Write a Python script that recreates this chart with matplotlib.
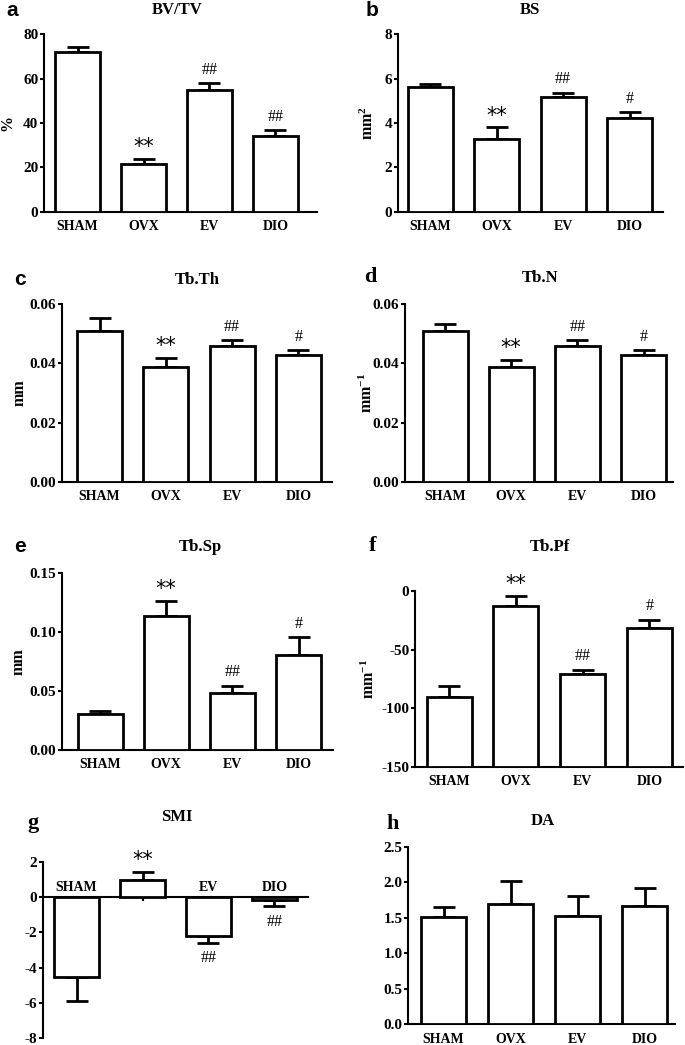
import matplotlib
matplotlib.use("Agg")
import matplotlib.pyplot as plt
import numpy as np

plt.rcParams['font.family'] = ['Liberation Serif', 'DejaVu Serif']
plt.rcParams['font.weight'] = 'bold'
plt.rcParams['axes.unicode_minus'] = False
plt.rcParams['mathtext.fontset'] = 'custom'
plt.rcParams['mathtext.rm'] = 'Liberation Serif:bold'
plt.rcParams['mathtext.it'] = 'Liberation Serif:bold'
plt.rcParams['mathtext.bf'] = 'Liberation Serif:bold'

groups = ['SHAM', 'OVX', 'EV', 'DIO']

bvtv_mean = [71.9, 21.4, 54.9, 34.3]
bvtv_err = [2.5, 2.4, 3.0, 2.4]
bvtv_sig = ['', '**', '##', '##']

bs_mean = [5.61, 3.26, 5.19, 4.21]
bs_err = [0.13, 0.55, 0.18, 0.27]
bs_sig = ['', '**', '##', '#']

tbth_mean = [0.0510, 0.0387, 0.0459, 0.0427]
tbth_err = [0.0042, 0.0032, 0.0019, 0.0017]
tbth_sig = ['', '**', '##', '#']

tbn_mean = [0.0510, 0.0387, 0.0459, 0.0427]
tbn_err = [0.0022, 0.0025, 0.0019, 0.0017]
tbn_sig = ['', '**', '##', '#']

tbsp_mean = [0.0306, 0.1138, 0.0487, 0.0809]
tbsp_err = [0.0025, 0.0130, 0.0059, 0.0148]
tbsp_sig = ['', '**', '##', '#']

tbpf_mean = [-90.2, -12.5, -71.1, -31.9]
tbpf_err = [9.4, 8.2, 3.9, 7.1]
tbpf_sig = ['', '**', '##', '#']

smi_mean = [-4.53, 0.94, -2.21, -0.15]
smi_err = [1.36, 0.48, 0.37, 0.36]
smi_sig = ['', '**', '##', '##']

da_mean = [1.51, 1.70, 1.53, 1.66]
da_err = [0.14, 0.32, 0.27, 0.26]
da_sig = ['', '', '', '']

W, H = 685, 1045
fig = plt.figure(figsize=(W / 100, H / 100), dpi=100)

panels = [
    dict(letter='a', title='BV/TV', ylabel='%', mean=bvtv_mean, err=bvtv_err, sig=bvtv_sig,
         yticks=[0, 20, 40, 60, 80], ytl=['0', '20', '40', '60', '80'], ylim=(0, 80), base=0,
         axl=44, axr=317, c0=77.5, s=66.0, yt=34.3, yb=211.7,
         lpos=(12, 11), lsans=True, tpos=(177, 10), ylx=15),
    dict(letter='b', title='BS', ylabel=r'mm$^{2}$', mean=bs_mean, err=bs_err, sig=bs_sig,
         yticks=[0, 2, 4, 6, 8], ytl=['0', '2', '4', '6', '8'], ylim=(0, 8), base=0,
         axl=398, axr=663, c0=430, s=66.5, yt=34.3, yb=211.7,
         lpos=(372, 11), lsans=True, tpos=(530, 10), ylx=377),
    dict(letter='c', title='Tb.Th', ylabel='mm', mean=tbth_mean, err=tbth_err, sig=tbth_sig,
         yticks=[0, 0.02, 0.04, 0.06], ytl=['0.00', '0.02', '0.04', '0.06'], ylim=(0, 0.06), base=0,
         axl=62, axr=332, c0=99.5, s=66.3, yt=304.3, yb=481.7,
         lpos=(20, 279), lsans=True, tpos=(197, 280), ylx=28),
    dict(letter='d', title='Tb.N', ylabel=r'mm$^{-1}$', mean=tbn_mean, err=tbn_err, sig=tbn_sig,
         yticks=[0, 0.02, 0.04, 0.06], ytl=['0.00', '0.02', '0.04', '0.06'], ylim=(0, 0.06), base=0,
         axl=405, axr=673, c0=445, s=66.2, yt=304.3, yb=481.7,
         lpos=(370, 277), lsans=False, tpos=(540, 278), ylx=376),
    dict(letter='e', title='Tb.Sp', ylabel='mm', mean=tbsp_mean, err=tbsp_err, sig=tbsp_sig,
         yticks=[0, 0.05, 0.10, 0.15], ytl=['0.00', '0.05', '0.10', '0.15'], ylim=(0, 0.15), base=0,
         axl=62, axr=333, c0=100, s=66.2, yt=573.3, yb=750,
         lpos=(20, 546), lsans=True, tpos=(200, 547), ylx=27),
    dict(letter='f', title='Tb.Pf', ylabel=r'mm$^{-1}$', mean=tbpf_mean, err=tbpf_err, sig=tbpf_sig,
         yticks=[-150, -100, -50, 0], ytl=['-150', '-100', '-50', '0'], ylim=(-150, 0), base=-150,
         axl=415, axr=683, c0=449, s=66.8, yt=591, yb=766.7,
         lpos=(373, 546), lsans=False, tpos=(550, 547), ylx=378),
    dict(letter='g', title='SMI', ylabel='', mean=smi_mean, err=smi_err, sig=smi_sig,
         yticks=[-8, -6, -4, -2, 0, 2], ytl=['-8', '-6', '-4', '-2', '0', '2'], ylim=(-8, 2), base=0,
         axl=43, axr=308, c0=76.5, s=66.0, yt=861.7, yb=1038.3,
         lpos=(33, 823), lsans=False, tpos=(177, 817), ylx=None),
    dict(letter='h', title='DA', ylabel='', mean=da_mean, err=da_err, sig=da_sig,
         yticks=[0, 0.5, 1.0, 1.5, 2.0, 2.5], ytl=['0.0', '0.5', '1.0', '1.5', '2.0', '2.5'], ylim=(0, 2.5), base=0,
         axl=408, axr=675, c0=443.5, s=67.0, yt=846.7, yb=1024.3,
         lpos=(393, 824), lsans=False, tpos=(543, 821), ylx=None),
]

LW_SPINE = 1.5
LW_BAR = 2.0

for p in panels:
    ax = fig.add_axes([p['axl'] / W, 1 - p['yb'] / H, (p['axr'] - p['axl']) / W, (p['yb'] - p['yt']) / H])
    x = np.arange(len(groups))
    xmin = (p['axl'] - p['c0']) / p['s']
    xmax = (p['axr'] - p['c0']) / p['s']
    ax.set_xlim(xmin, xmax)
    ax.set_ylim(*p['ylim'])
    mean = np.array(p['mean'])
    err = np.array(p['err'])
    base = p['base']
    bw = 45.0 / p['s']
    ax.bar(x, mean - base, bottom=base, width=bw, color='white', edgecolor='black',
           linewidth=LW_BAR, zorder=3)
    up = mean >= base if base != 0 else mean >= 0
    lower = np.where(up, 0, err)
    upper = np.where(up, err, 0)
    ax.errorbar(x, mean, yerr=[lower, upper], fmt='none', ecolor='black', elinewidth=LW_BAR,
                capsize=8, capthick=LW_BAR, zorder=2)
    for spine in ['top', 'right']:
        ax.spines[spine].set_visible(False)
    for spine in ['left', 'bottom']:
        ax.spines[spine].set_linewidth(LW_SPINE)
    ax.set_yticks(p['yticks'])
    ax.set_yticklabels(p['ytl'], fontsize=11, fontweight='bold')
    ax.tick_params(axis='y', direction='out', length=3, width=LW_SPINE, pad=1)

    if p['letter'] == 'g':
        ax.spines['bottom'].set_position(('data', 0))
        ax.set_xticks(x)
        ax.tick_params(axis='x', direction='out', length=3, width=LW_SPINE, labelbottom=False)
        for xi, g in zip(x, groups):
            ax.text(xi, 0.18, g, ha='center', va='bottom', fontsize=10, fontweight='bold', zorder=1)
    else:
        ax.set_xticks(x)
        ax.set_xticklabels(groups, fontsize=10, fontweight='bold')
        ax.tick_params(axis='x', length=0, pad=6)

    for xi, m, e, sg, u in zip(x, mean, err, p['sig'], up):
        if not sg:
            continue
        if sg == '**':
            fkw = dict(fontsize=15, fontweight='normal', family=['DejaVu Sans'])
            ax.annotate(sg, (xi, m + e), xytext=(0, 4), textcoords='offset points',
                        ha='center', va='baseline', annotation_clip=False, **fkw)
            continue
        fkw = dict(fontsize=11.5, fontweight='normal', family=['Liberation Serif'])
        if u:
            ax.annotate(sg, (xi, m + e), xytext=(0, 4), textcoords='offset points',
                        ha='center', va='bottom', annotation_clip=False, **fkw)
        else:
            ax.annotate(sg, (xi, m - e), xytext=(0, -5.5), textcoords='offset points',
                        ha='center', va='top', annotation_clip=False, **fkw)

    if p['ylabel']:
        ax.set_ylabel(p['ylabel'], fontsize=11.5, fontweight='bold')
        ax.yaxis.set_label_coords((p['ylx'] - p['axl']) / (p['axr'] - p['axl']), 0.5)

    lx, ly = p['lpos']
    if p['lsans']:
        fig.text(lx / W, 1 - ly / H, p['letter'], fontsize=15, fontweight='bold',
                 family=['Liberation Sans'], ha='center', va='center')
    else:
        fig.text(lx / W, 1 - ly / H, p['letter'], fontsize=16, fontweight='bold',
                 family=['Liberation Serif'], ha='center', va='center')
    tx, ty = p['tpos']
    fig.text(tx / W, 1 - ty / H, p['title'], fontsize=12, fontweight='bold', ha='center', va='center')

fig.savefig('out.png', dpi=100)
